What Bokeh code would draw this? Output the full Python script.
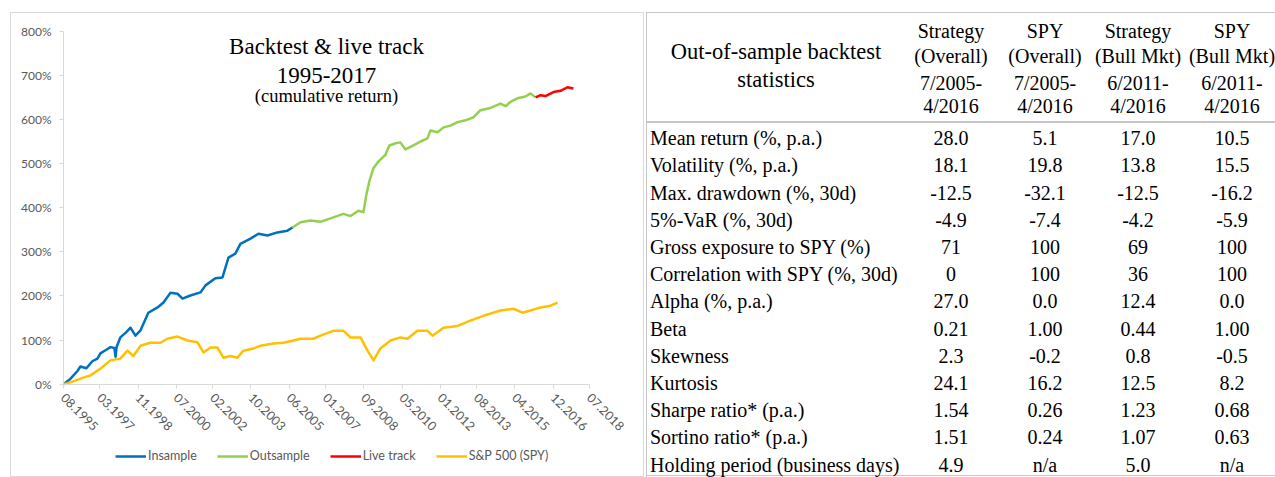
import math
from bokeh.plotting import figure
from bokeh.models import (Range1d, FixedTicker, PrintfTickFormatter, Legend,
                          LegendItem, Label, Div)
from bokeh.layouts import row
from bokeh.embed import file_html
from bokeh.resources import INLINE

# ---------------- data ----------------
INSAMPLE_YEAR = [1995.58, 1995.88, 1996.19, 1996.32, 1996.58, 1996.84, 1997.06, 1997.19,
                 1997.45, 1997.63, 1997.80, 1997.85, 1997.90, 1998.06, 1998.32, 1998.50,
                 1998.72, 1998.94, 1999.28, 1999.68, 1999.94, 2000.24, 2000.55, 2000.77,
                 2001.11, 2001.55, 2001.77, 2002.20, 2002.51, 2002.77, 2003.07, 2003.29,
                 2003.73, 2004.08, 2004.47, 2004.90, 2005.34, 2005.56]
INSAMPLE_PCT = [0, 12, 30, 40, 36, 52, 58, 70,
                78, 84, 82, 62, 85, 106, 118, 128,
                110, 122, 162, 174, 185, 207, 205, 194,
                201, 208, 224, 240, 242, 287, 296, 318,
                330, 341, 337, 344, 348, 355]

OUTSAMPLE_YEAR = [2005.56, 2005.91, 2006.34, 2006.78, 2007.34, 2007.78, 2008.09, 2008.43,
                  2008.65, 2008.78, 2008.91, 2009.09, 2009.31, 2009.61, 2009.78, 2010.05,
                  2010.26, 2010.48, 2010.79, 2011.14, 2011.44, 2011.57, 2011.88, 2012.14,
                  2012.44, 2012.75, 2013.10, 2013.45, 2013.75, 2014.19, 2014.62, 2014.84,
                  2015.06, 2015.36, 2015.71, 2015.93, 2016.15]
OUTSAMPLE_PCT = [355, 367, 371, 368, 378, 386, 381, 393,
                 390, 430, 460, 490, 505, 520, 541, 546,
                 548, 532, 540, 550, 557, 575, 571, 582,
                 586, 594, 598, 605, 621, 626, 636, 630,
                 640, 648, 652, 659, 650]

LIVE_YEAR = [2016.15, 2016.37, 2016.58, 2016.93, 2017.24, 2017.54, 2017.80]
LIVE_PCT = [650, 655, 653, 662, 665, 673, 670]

SPY_YEAR = [1995.58, 1995.75, 1996.10, 1996.45, 1996.76, 1997.19, 1997.63, 1998.06,
            1998.37, 1998.63, 1998.94, 1999.37, 1999.81, 2000.11, 2000.55, 2000.98,
            2001.42, 2001.68, 2001.99, 2002.29, 2002.55, 2002.86, 2003.16, 2003.42,
            2003.86, 2004.16, 2004.73, 2005.17, 2005.60, 2005.91, 2006.47, 2006.78,
            2007.34, 2007.78, 2008.09, 2008.52, 2008.83, 2009.09, 2009.39, 2009.83,
            2010.26, 2010.57, 2011.00, 2011.44, 2011.66, 2012.14, 2012.75, 2013.31,
            2013.88, 2014.62, 2015.19, 2015.58, 2015.93, 2016.37, 2016.80, 2017.11]
SPY_PCT = [0, 2, 8, 15, 20, 35, 54, 58,
           76, 64, 87, 94, 94, 103, 108, 99,
           95, 72, 83, 83, 60, 64, 60, 76,
           81, 87, 92, 94, 99, 103, 103, 110,
           121, 121, 106, 106, 76, 54, 81, 99,
           106, 103, 121, 121, 110, 128, 132, 144,
           155, 167, 171, 162, 167, 174, 178, 185]

TICK_LABELS = ["08.1995", "03.1997", "11.1998", "07.2000", "02.2002", "10.2003",
               "06.2005", "01.2007", "09.2008", "05.2010", "01.2012", "08.2013",
               "04.2015", "12.2016", "07.2018"]
Y_TICKS = [0, 100, 200, 300, 400, 500, 600, 700, 800]

SERIES_NAMES = ["Insample", "Outsample", "Live track", "S&P 500 (SPY)"]
SERIES_COLORS = ["#0070C0", "#92D050", "#FF0000", "#FFC000"]

TITLE_LINES = ["Backtest & live track", "1995-2017", "(cumulative return)"]

TABLE_TITLE = ["Out-of-sample backtest", "statistics"]
COL_HEADERS = [["Strategy", "(Overall)", "7/2005-", "4/2016"],
               ["SPY", "(Overall)", "7/2005-", "4/2016"],
               ["Strategy", "(Bull Mkt)", "6/2011-", "4/2016"],
               ["SPY", "(Bull Mkt)", "6/2011-", "4/2016"]]
ROW_LABELS = ["Mean return (%, p.a.)", "Volatility (%, p.a.)", "Max. drawdown (%, 30d)",
              "5%-VaR (%, 30d)", "Gross exposure to SPY (%)", "Correlation with SPY (%, 30d)",
              "Alpha (%, p.a.)", "Beta", "Skewness", "Kurtosis", "Sharpe ratio* (p.a.)",
              "Sortino ratio* (p.a.)", "Holding period (business days)"]
STRAT_OVERALL = ["28.0", "18.1", "-12.5", "-4.9", "71", "0", "27.0", "0.21", "2.3", "24.1", "1.54", "1.51", "4.9"]
SPY_OVERALL = ["5.1", "19.8", "-32.1", "-7.4", "100", "100", "0.0", "1.00", "-0.2", "16.2", "0.26", "0.24", "n/a"]
STRAT_BULL = ["17.0", "13.8", "-12.5", "-4.2", "69", "36", "12.4", "0.44", "0.8", "12.5", "1.23", "1.07", "5.0"]
SPY_BULL = ["10.5", "15.5", "-16.2", "-5.9", "100", "100", "0.0", "1.00", "-0.5", "8.2", "0.68", "0.63", "n/a"]

# ---------------- chart ----------------
tick_pos = [int(s[3:]) + (int(s[:2]) - 1) / 12 for s in TICK_LABELS]

# page geometry (pixels): chart panel box and plotting area inside it
CH_W, CH_H = 644, 477
BOX_L, BOX_T, BOX_R, BOX_B = 10, 12, 643, 476
AREA_L, AREA_R, AREA_T, AREA_B = 63, 589, 30.7, 383.7
px_x = (AREA_R - AREA_L) / (tick_pos[-1] - tick_pos[0])
px_y = (AREA_B - AREA_T) / (Y_TICKS[-1] - Y_TICKS[0])
x_start = tick_pos[0] - (AREA_L - BOX_L) / px_x
x_end = tick_pos[-1] + (BOX_R - AREA_R) / px_x
y_start = Y_TICKS[0] - (BOX_B - AREA_B) / px_y
y_end = Y_TICKS[-1] + (AREA_T - BOX_T) / px_y

chart = figure(width=CH_W, height=CH_H, output_backend="svg", toolbar_location=None,
               x_range=Range1d(x_start, x_end), y_range=Range1d(y_start, y_end),
               min_border_left=BOX_L, min_border_right=CH_W - BOX_R,
               min_border_top=BOX_T, min_border_bottom=CH_H - BOX_B)
chart.outline_line_color = "#D9D9D9"
chart.outline_line_width = 1
chart.grid.visible = False
chart.background_fill_color = "white"
chart.border_fill_color = "white"

renderers = []
for xs, ys, col in [(INSAMPLE_YEAR, INSAMPLE_PCT, SERIES_COLORS[0]),
                    (OUTSAMPLE_YEAR, OUTSAMPLE_PCT, SERIES_COLORS[1]),
                    (LIVE_YEAR, LIVE_PCT, SERIES_COLORS[2]),
                    (SPY_YEAR, SPY_PCT, SERIES_COLORS[3])]:
    r = chart.line(xs, ys, line_color=col, line_width=2.5, line_join="round")
    renderers.append(r)

xa = chart.xaxis[0]
xa.fixed_location = Y_TICKS[0]
xa.bounds = (tick_pos[0], tick_pos[-1])
xa.ticker = FixedTicker(ticks=tick_pos)
xa.major_label_overrides = {p: l for p, l in zip(tick_pos, TICK_LABELS)}
xa.major_label_orientation = -math.pi / 4
xa.axis_line_color = "#D9D9D9"
xa.major_tick_line_color = "#D9D9D9"
xa.major_tick_out = 4
xa.major_tick_in = 0
xa.minor_tick_line_color = None
xa.major_label_standoff = 7
xa.major_label_text_font = "Lato"
xa.major_label_text_font_size = "12.5px"
xa.major_label_text_color = "#595959"

ya = chart.yaxis[0]
ya.fixed_location = tick_pos[0]
ya.bounds = (Y_TICKS[0], Y_TICKS[-1])
ya.ticker = FixedTicker(ticks=Y_TICKS)
ya.formatter = PrintfTickFormatter(format="%d%%")
ya.axis_line_color = "#D9D9D9"
ya.major_tick_line_color = "#D9D9D9"
ya.major_tick_out = 4
ya.major_tick_in = 0
ya.minor_tick_line_color = None
ya.major_label_standoff = 8
ya.major_label_text_font = "Lato"
ya.major_label_text_font_size = "12px"
ya.major_label_text_color = "#595959"

# title lines: (page baseline y, size)
for txt, base, fs in zip(TITLE_LINES, [46, 74.5, 95], ["23px", "23px", "18.5px"]):
    chart.add_layout(Label(x=326 - BOX_L, y=BOX_B - base, x_units="screen", y_units="screen",
                           text=txt, text_align="center", text_baseline="alphabetic",
                           text_font="Liberation Serif", text_font_size=fs,
                           text_color="#000000"))

legend = Legend(items=[LegendItem(label=n, renderers=[r]) for n, r in zip(SERIES_NAMES, renderers)],
                orientation="horizontal", location=(115 - BOX_L, 13),
                glyph_width=31, glyph_height=14, spacing=20, label_standoff=2,
                padding=0, margin=0, border_line_color=None, background_fill_alpha=0,
                label_text_font="Lato", label_text_font_size="12.5px",
                label_text_color="#595959")
chart.add_layout(legend)

# ---------------- table (HTML) ----------------
DIV_X0 = CH_W          # page x where the table block starts
DIV_W, DIV_H = 1275 - DIV_X0, 477
LINE_COL = "#C6C6C6"
FONT = "'Liberation Serif', serif"


def _txt(text, baseline, size, left=None, center=None):
    top = baseline - 0.8375 * size
    style = (f"position:absolute;top:{top:.1f}px;font-size:{size}px;line-height:{size}px;"
             "white-space:nowrap;")
    if center is not None:
        style += f"left:{center - DIV_X0 - 150:.1f}px;width:300px;text-align:center;"
    else:
        style += f"left:{left - DIV_X0:.1f}px;"
    return f'<div style="{style}">{text}</div>'


def _rule(x, y, w, h):
    return (f'<div style="position:absolute;left:{x - DIV_X0}px;top:{y}px;width:{w}px;'
            f'height:{h}px;background:{LINE_COL};"></div>')


parts = [_rule(646, 12, 1275 - 646, 1), _rule(646, 12, 1, 465),
         _rule(646, 121, 1275 - 646, 2), _rule(646, 475, 1275 - 646, 1)]
for t, b in zip(TABLE_TITLE, [60, 88]):
    parts.append(_txt(t, b, 22.5, center=776))
COL_X = [951, 1045, 1138, 1232]
HEAD_B = [38, 63, 89.5, 113]
for cx, lines in zip(COL_X, COL_HEADERS):
    for t, b in zip(lines, HEAD_B):
        parts.append(_txt(t, b, 20, center=cx))
ROW_B0, ROW_DY = 145, 27.2
for i, lab in enumerate(ROW_LABELS):
    b = ROW_B0 + i * ROW_DY
    parts.append(_txt(lab, b, 20, left=650))
    for cx, vals in zip(COL_X, [STRAT_OVERALL, SPY_OVERALL, STRAT_BULL, SPY_BULL]):
        parts.append(_txt(vals[i], b, 20, center=cx))

html = (f'<div style="position:relative;width:{DIV_W}px;height:{DIV_H}px;overflow:hidden;'
        f'font-family:{FONT};color:#000000;">' + "".join(parts) + "</div>")
table = Div(text=html, width=DIV_W, height=DIV_H, margin=(0, 0, 0, 0),
            styles={"overflow": "hidden"})

layout = row(chart, table)
open("out.html", "w").write(file_html(layout, INLINE))
